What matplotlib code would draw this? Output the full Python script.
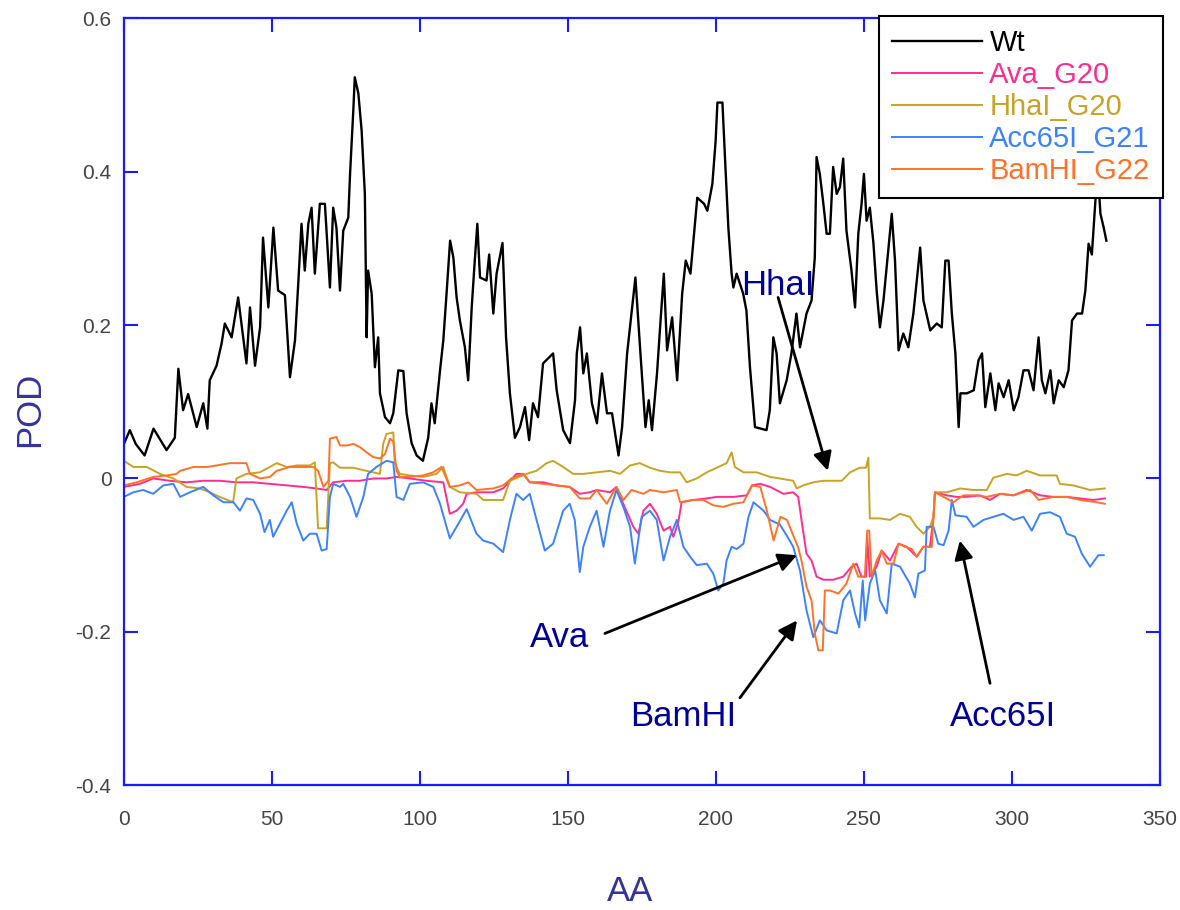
import matplotlib
matplotlib.use("Agg")
import matplotlib.pyplot as plt

plt.rcParams['font.family'] = ['Liberation Sans', 'DejaVu Sans']

# POD profiles along the sequence (AA position, POD value)
wt_aa = [0, 2, 4, 7, 10, 14.4, 17.2, 18.4, 20, 21.7, 24.6, 26.8, 28.2, 29, 31.3, 33, 34.1, 36.4,
         38.6, 41.4, 42.6, 44.3, 46, 47, 48.8, 50.5, 52.1, 54.4, 56.1, 57.8, 58.9, 60, 61.1, 62.3,
         63.4, 64.5, 66.2, 67.9, 69.6, 70.7, 71.8, 73, 74.1, 75.8, 76.4, 77.5, 78, 79.2, 80.3, 81.4,
         82, 82.5, 83.7, 84.8, 85.9, 86.5, 88.2, 89.9, 91, 92.7, 94.4, 95.5, 97.2, 98.9, 101, 102.8,
         103.9, 105, 106.8, 107.9, 109, 110.2, 111.3, 112.4, 113.5, 115.2, 116.3, 117.5, 118.6,
         119.4, 120.3, 122.5, 123.4, 124.8, 125.9, 127.9, 129.1, 130.4, 132.1, 133.8, 135.5, 136.9,
         138.2, 139.9, 141.6, 145, 146.2, 148.4, 150.7, 152.4, 153, 154.1, 155.2, 156.4, 158.1,
         159.8, 161.5, 163.2, 164.9, 167.1, 168.3, 170, 172.8, 174.5, 176.2, 177.3, 178.4, 180.1,
         181.3, 182.4, 183.5, 185.2, 186.9, 188.6, 189.8, 191.4, 192.6, 193.7, 196, 197.1, 198.8,
         199.9, 200.5, 202.2, 203.1, 204.2, 205.3, 205.9, 207, 209.2, 210.3, 211.5, 213.2, 217.1,
         218.2, 219.4, 220.5, 221.6, 223.9, 225.5, 227.2, 228.4, 230.6, 232.3, 233.4, 234, 235.1,
         236.3, 237.4, 238.5, 239.6, 240.8, 241.9, 243, 244.1, 245.8, 247, 248.1, 249.2, 250,
         250.9, 252, 253.2, 254.3, 255.4, 256.6, 258.3, 259.4, 260.5, 261.7, 263.3, 265, 266.7,
         269, 270.1, 272.4, 274.6, 276.3, 277.5, 278.6, 279.7, 280.9, 282, 282.6, 284.8, 287.1,
         288.7, 289.9, 291, 292.7, 294.4, 295.5, 297.2, 298.9, 300.6, 302.2, 303.9, 305.6, 307.3,
         309, 310.1, 311.3, 313, 314.1, 315.8, 317.5, 319.1, 320.3, 322, 323.7, 324.8, 325.9, 327,
         328.2, 329, 329.9, 331, 331.9]
wt_pod = [0.045, 0.063, 0.045, 0.03, 0.065, 0.037, 0.053, 0.143, 0.089, 0.11, 0.067, 0.098, 0.065,
          0.128, 0.147, 0.176, 0.202, 0.184, 0.236, 0.15, 0.223, 0.147, 0.197, 0.314, 0.223, 0.327,
          0.245, 0.239, 0.132, 0.18, 0.254, 0.332, 0.271, 0.332, 0.353, 0.267, 0.358, 0.358, 0.249,
          0.353, 0.327, 0.245, 0.323, 0.34, 0.397, 0.48, 0.523, 0.502, 0.454, 0.371, 0.184, 0.271,
          0.241, 0.145, 0.184, 0.111, 0.08, 0.072, 0.085, 0.141, 0.14, 0.085, 0.046, 0.03, 0.023,
          0.053, 0.098, 0.072, 0.141, 0.18, 0.241, 0.31, 0.288, 0.236, 0.206, 0.171, 0.128, 0.223,
          0.288, 0.332, 0.262, 0.258, 0.292, 0.215, 0.267, 0.307, 0.184, 0.111, 0.053, 0.067, 0.093,
          0.05, 0.098, 0.08, 0.15, 0.163, 0.115, 0.063, 0.046, 0.102, 0.163, 0.197, 0.137, 0.163,
          0.098, 0.072, 0.137, 0.085, 0.085, 0.03, 0.067, 0.163, 0.262, 0.163, 0.067, 0.102, 0.063,
          0.137, 0.206, 0.267, 0.167, 0.21, 0.128, 0.241, 0.284, 0.267, 0.319, 0.366, 0.358, 0.349,
          0.384, 0.44, 0.49, 0.49, 0.415, 0.327, 0.267, 0.249, 0.267, 0.241, 0.219, 0.145, 0.067,
          0.063, 0.089, 0.184, 0.163, 0.098, 0.128, 0.163, 0.215, 0.171, 0.215, 0.232, 0.288, 0.419,
          0.397, 0.358, 0.319, 0.319, 0.406, 0.371, 0.38, 0.417, 0.323, 0.271, 0.223, 0.319, 0.358,
          0.397, 0.336, 0.353, 0.307, 0.245, 0.197, 0.232, 0.301, 0.345, 0.284, 0.167, 0.189, 0.171,
          0.215, 0.301, 0.232, 0.193, 0.202, 0.197, 0.284, 0.284, 0.215, 0.163, 0.067, 0.111, 0.111,
          0.115, 0.154, 0.163, 0.093, 0.137, 0.089, 0.124, 0.106, 0.128, 0.089, 0.106, 0.141, 0.141,
          0.115, 0.184, 0.128, 0.111, 0.141, 0.098, 0.128, 0.119, 0.141, 0.206, 0.215, 0.215, 0.245,
          0.306, 0.292, 0.362, 0.40, 0.345, 0.327, 0.31]

ava_aa = [0, 5.4, 9.9, 15.5, 21.2, 26.8, 32.4, 38, 43.7, 49.3, 55, 60.6, 65.1, 68.5, 70.7, 75.2,
          79.7, 84.2, 88.7, 92.1, 96.6, 102.2, 107.9, 110.1, 112.4, 114.6, 115.8, 119.1, 124.8,
          128.1, 132.6, 134.9, 137.1, 141.6, 146.1, 150.6, 154, 157.4, 159.7, 164.2, 166.4, 168.7,
          172.1, 173.8, 175.5, 177.7, 180, 182.3, 184.5, 185.6, 187.3, 188.4, 192.3, 196.9, 200.3,
          205.9, 210.4, 212.2, 215, 218.3, 222.8, 226.1, 227.8, 228.9, 230.6, 232.3, 234, 236.3,
          239.6, 243, 245.8, 247.5, 249.2, 250.7, 251.1, 252, 254.3, 256, 258.8, 261.7, 264.4,
          267.8, 270.1, 272.3, 273.5, 274, 278, 281.3, 284.7, 289.2, 292.6, 296, 300.5, 305, 309.5,
          314, 318.5, 323, 327.5, 331.4]
ava_pod = [-0.011, -0.007, 0.0, -0.003, -0.005, -0.003, -0.003, -0.005, -0.005, -0.007, -0.009,
           -0.011, -0.013, -0.015, -0.005, -0.003, -0.003, 0.0, 0.0, 0.002, 0.0, -0.003, -0.005,
           -0.046, -0.042, -0.033, -0.02, -0.018, -0.018, -0.013, 0.006, 0.006, -0.005, -0.005,
           -0.009, -0.011, -0.02, -0.018, -0.015, -0.018, -0.011, -0.033, -0.063, -0.072, -0.042,
           -0.033, -0.046, -0.068, -0.063, -0.076, -0.057, -0.031, -0.028, -0.026, -0.024, -0.024,
           -0.022, -0.009, -0.007, -0.011, -0.02, -0.018, -0.024, -0.054, -0.098, -0.107, -0.128,
           -0.132, -0.132, -0.128, -0.115, -0.111, -0.128, -0.128, -0.076, -0.128, -0.115, -0.094,
           -0.107, -0.085, -0.089, -0.102, -0.089, -0.089, -0.05, -0.018, -0.022, -0.024, -0.024,
           -0.022, -0.028, -0.02, -0.022, -0.015, -0.022, -0.024, -0.024, -0.026, -0.028, -0.026]

hha_aa = [0, 3.2, 7.7, 12.2, 16.7, 21.2, 25.7, 29, 32.4, 36.9, 38, 41.4, 45.9, 49.3, 51.6, 55,
          58.4, 62.8, 64.5, 65.6, 68.5, 69.6, 70.7, 73, 77.5, 81.9, 86.5, 87.6, 88.7, 91, 91.5,
          93.2, 96.6, 101.1, 105.6, 107.9, 110.1, 113.5, 119.1, 121.4, 128.1, 130.4, 136, 139.4,
          142.8, 145, 148.4, 151.8, 155.2, 159.7, 164.2, 167.6, 171, 174.3, 177.7, 181.1, 184.5,
          187.9, 190.1, 193.5, 196.9, 200.3, 203.6, 205.3, 206.4, 209.3, 213.8, 218.3, 221.6,
          226.1, 227.3, 229.5, 232.9, 236.3, 239.6, 242.5, 245.3, 248.6, 250.7, 251.5, 252, 255.4,
          258.8, 262.2, 265.5, 267.8, 270.1, 272.3, 273.5, 274, 278, 282.5, 287, 291.5, 293.7,
          298.3, 301.6, 305, 309.5, 315.1, 316.2, 320.7, 326.4, 331.4]
hha_pod = [0.023, 0.015, 0.015, 0.006, 0.0, -0.011, -0.013, -0.018, -0.024, -0.031, 0.0, 0.006,
           0.008, 0.015, 0.02, 0.015, 0.017, 0.017, 0.021, -0.065, -0.065, 0.02, 0.021, 0.014,
           0.014, 0.01, 0.006, 0.045, 0.058, 0.06, 0.02, 0.006, 0.004, 0.002, 0.006, 0.015, -0.011,
           -0.018, -0.02, -0.028, -0.028, -0.003, 0.006, 0.01, 0.02, 0.023, 0.015, 0.006, 0.006,
           0.008, 0.01, 0.006, 0.017, 0.02, 0.014, 0.01, 0.008, 0.008, -0.005, 0.0, 0.008, 0.014,
           0.02, 0.034, 0.015, 0.008, 0.008, 0.002, 0.0, -0.003, -0.013, -0.009, -0.005, -0.003,
           -0.003, -0.003, 0.008, 0.014, 0.014, 0.027, -0.052, -0.052, -0.054, -0.046, -0.05,
           -0.063, -0.072, -0.063, -0.05, -0.018, -0.018, -0.013, -0.015, -0.015, 0.001, 0.006,
           0.004, 0.01, 0.004, 0.004, -0.007, -0.009, -0.015, -0.013]

acc_aa = [0, 3.2, 6.5, 9.9, 13.3, 16.7, 19, 22.3, 26.8, 30.2, 33.6, 37, 39.2, 41.4, 43.7, 46,
          47.5, 49.3, 50.4, 52.7, 55, 56.7, 58.4, 60.6, 62.8, 65.1, 66.8, 68.5, 69.6, 70.7, 73,
          74.1, 76.4, 78.6, 80.9, 82.5, 85.3, 88.7, 91, 92.1, 94.4, 96.6, 101.1, 104.5, 106.8,
          110.1, 112.4, 115.8, 119.1, 121.4, 124.8, 128.1, 130.4, 132.6, 134.9, 137.1, 139.4,
          142.2, 145, 148.4, 150.6, 152.3, 154, 155.2, 157.4, 159.7, 162, 164.2, 166.4, 168.7,
          171, 172.6, 174.9, 177.7, 180, 182.3, 184.5, 186.8, 189, 191.3, 193.5, 196.9, 199.1,
          200.8, 202.5, 203.6, 205.3, 207, 209.3, 211, 212.7, 216.1, 218.3, 221.6, 224, 226.1,
          228.4, 230.6, 232.9, 235.1, 237.4, 240.8, 243, 245.3, 247, 248.4, 249.6, 250.4, 252,
          253.8, 255.4, 257.7, 259.4, 262.2, 265.5, 267.2, 268.4, 270.6, 271.2, 273.5, 275.1,
          276.9, 278.6, 279.7, 280.9, 284.7, 287, 290.4, 293.7, 297.1, 300.5, 303.9, 306.7, 309.5,
          312.9, 316.2, 318.5, 321.3, 323.6, 326.4, 329.2, 331]
acc_pod = [-0.024, -0.018, -0.015, -0.02, -0.009, -0.007, -0.024, -0.018, -0.011, -0.022, -0.031,
           -0.031, -0.042, -0.026, -0.028, -0.046, -0.07, -0.054, -0.076, -0.059, -0.042, -0.031,
           -0.059, -0.081, -0.072, -0.072, -0.094, -0.092, -0.024, -0.007, -0.011, -0.007, -0.024,
           -0.05, -0.024, 0.006, 0.015, 0.023, 0.021, -0.024, -0.028, -0.007, -0.005, -0.011,
           -0.033, -0.078, -0.063, -0.04, -0.072, -0.081, -0.085, -0.096, -0.054, -0.02, -0.028,
           -0.02, -0.054, -0.094, -0.085, -0.042, -0.033, -0.054, -0.122, -0.089, -0.063, -0.042,
           -0.089, -0.042, -0.015, -0.037, -0.063, -0.111, -0.05, -0.042, -0.054, -0.107, -0.076,
           -0.054, -0.089, -0.102, -0.113, -0.111, -0.124, -0.146, -0.137, -0.107, -0.089, -0.092,
           -0.085, -0.05, -0.031, -0.042, -0.054, -0.06, -0.075, -0.089, -0.12, -0.172, -0.207,
           -0.185, -0.198, -0.202, -0.159, -0.146, -0.176, -0.194, -0.133, -0.185, -0.137, -0.12,
           -0.159, -0.176, -0.111, -0.115, -0.137, -0.155, -0.124, -0.12, -0.063, -0.063, -0.085,
           -0.087, -0.068, -0.028, -0.048, -0.05, -0.063, -0.054, -0.05, -0.046, -0.054, -0.05,
           -0.068, -0.046, -0.044, -0.05, -0.072, -0.076, -0.098, -0.115, -0.1, -0.1]

bam_aa = [0, 4.3, 9.9, 14.4, 17.8, 19, 23.5, 28, 31.3, 35.8, 41.4, 42.6, 46, 49.3, 51.6, 56.1,
          60.6, 64, 65.6, 67.4, 69.1, 69.6, 71.8, 73, 75.2, 77.5, 79.7, 82, 84.2, 86.5, 88.2, 89.9,
          91, 92.1, 93.2, 96.6, 101.1, 104.5, 107.3, 110.1, 113.5, 116.3, 119.1, 124.8, 128.1,
          130.9, 134.9, 137.1, 141.6, 146.1, 150.6, 154, 157.4, 159.7, 163.1, 166.4, 168.7, 171.5,
          175.5, 177.7, 182.3, 186.8, 187.9, 192.3, 195.7, 199.1, 202.5, 205.9, 209.3, 212.2, 215,
          217.2, 219.5, 221.8, 224, 226.3, 227.8, 228.9, 230.6, 232.3, 233.4, 234.6, 236.1, 236.8,
          238.5, 241.4, 244.1, 246.4, 248.1, 250.3, 251.1, 251.8, 252.6, 254.3, 256, 257.7, 260,
          261.7, 263.9, 266.2, 267.8, 270.1, 272.9, 273.5, 274, 276.9, 280.2, 283.6, 288.1, 291.5,
          296, 300.5, 306.2, 309, 314, 318.5, 323, 328.6, 331.4]
bam_pod = [-0.009, -0.005, 0.002, 0.004, 0.006, 0.01, 0.015, 0.015, 0.017, 0.02, 0.02, 0.006, 0.0,
           0.002, 0.01, 0.015, 0.015, 0.015, 0.01, -0.011, -0.003, 0.052, 0.054, 0.043, 0.043,
           0.045, 0.041, 0.034, 0.028, 0.026, 0.032, 0.052, 0.048, 0.01, 0.002, 0.002, 0.004,
           0.008, 0.015, -0.011, -0.009, -0.005, -0.015, -0.013, -0.009, 0.0, 0.006, -0.005,
           -0.007, -0.009, -0.011, -0.026, -0.026, -0.015, -0.033, -0.011, -0.028, -0.015, -0.02,
           -0.015, -0.018, -0.015, -0.031, -0.028, -0.028, -0.035, -0.037, -0.033, -0.031, -0.009,
           -0.011, -0.042, -0.081, -0.05, -0.054, -0.076, -0.09, -0.107, -0.141, -0.159, -0.202,
           -0.224, -0.224, -0.146, -0.146, -0.15, -0.137, -0.111, -0.128, -0.128, -0.068, -0.068,
           -0.128, -0.107, -0.094, -0.111, -0.111, -0.085, -0.089, -0.092, -0.102, -0.089, -0.089,
           -0.05, -0.018, -0.024, -0.031, -0.022, -0.022, -0.024, -0.02, -0.022, -0.015, -0.028,
           -0.024, -0.024, -0.028, -0.031, -0.033]

series = [
    ("Wt", wt_aa, wt_pod, "black", 1.7),
    ("Ava_G20", ava_aa, ava_pod, "#ff2d8f", 1.4),
    ("HhaI_G20", hha_aa, hha_pod, "#c8a325", 1.4),
    ("Acc65I_G21", acc_aa, acc_pod, "#3c82ff", 1.4),
    ("BamHI_G22", bam_aa, bam_pod, "#ff7228", 1.4),
]

axis_blue = "#1a1aff"
note_blue = "#000099"

fig = plt.figure(figsize=(11.8, 9.1), dpi=100)
ax = fig.add_axes([0.105, 0.137, 0.878, 0.843])

for name, aa, pod, col, lw in series:
    ax.plot(aa, pod, color=col, lw=lw, label=name)

ax.set_xlim(0, 350)
ax.set_ylim(-0.4, 0.6)
ax.set_xticks([0, 50, 100, 150, 200, 250, 300, 350])
ax.set_yticks([-0.4, -0.2, 0, 0.2, 0.4, 0.6])
ax.set_yticklabels(["-0.4", "-0.2", "0", "0.2", "0.4", "0.6"])
ax.tick_params(direction="in", length=10, width=1.5, color=axis_blue,
               labelsize=15, labelcolor="#444444", top=True, right=True)
ax.tick_params(axis="x", pad=18)
ax.tick_params(axis="y", pad=9)
for sp in ax.spines.values():
    sp.set_color(axis_blue)
    sp.set_linewidth(1.6)

fig.text(0.534, 0.02, "AA", color="#33339a", fontsize=25, ha="center", va="center")
fig.text(0.025, 0.55, "POD", color="#33339a", fontsize=25, ha="center", va="center",
         rotation=90)

leg = ax.legend(loc="upper right", bbox_to_anchor=(1.003, 1.003), borderaxespad=0,
                fontsize=21, handlelength=3.1, labelspacing=0.14, frameon=True,
                fancybox=False, borderpad=0.45, handletextpad=0.25)
leg.get_frame().set_edgecolor("black")
leg.get_frame().set_linewidth(1.5)
leg.get_frame().set_alpha(1)
for txt, (_, _, _, col, _) in zip(leg.get_texts(), series):
    txt.set_color(col)

# enzyme site call-outs
notes = [
    ("HhaI", (221, 0.252), (221, 0.236), (237.8, 0.010)),
    ("Ava", (147.3, -0.207), (162.5, -0.202), (227.4, -0.100)),
    ("BamHI", (188.9, -0.31), (208.1, -0.286), (227.4, -0.185)),
    ("Acc65I", (297, -0.31), (292.6, -0.267), (282.4, -0.081)),
]
for label, txt_xy, tail, head in notes:
    ax.text(txt_xy[0], txt_xy[1], label, color=note_blue, fontsize=25,
            ha="center", va="center")
    ax.annotate("", xy=head, xytext=tail,
                arrowprops=dict(arrowstyle="-|>", color="black", lw=2,
                                mutation_scale=28, shrinkA=0, shrinkB=0))

fig.savefig("out.png", dpi=100)
